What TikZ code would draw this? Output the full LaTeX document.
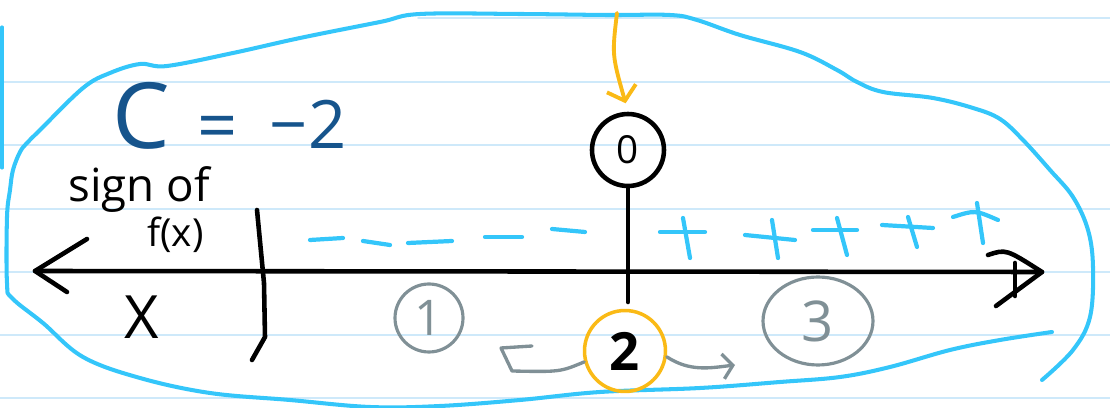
\documentclass[tikz,border=0pt]{standalone}
\usepackage{fontspec}
\setmainfont{Open Sans}
\usetikzlibrary{arrows.meta,shapes.geometric}
\definecolor{ruleblue}{RGB}{206,233,250}
\definecolor{blobblue}{RGB}{52,198,250}
\definecolor{inkblue}{RGB}{22,84,140}
\definecolor{pencilgray}{RGB}{128,144,150}
\definecolor{markerorange}{RGB}{250,186,22}

\begin{document}
\begin{tikzpicture}[x=0.02cm,y=-0.02cm,line cap=round,line join=round,
  rule/.style={ruleblue,line width=1.1pt},
  blob/.style={blobblue,line width=2.3pt},
  ink/.style={black,line width=2.6pt},
  signs/.style={blobblue,line width=2.4pt},
  pencil/.style={pencilgray,line width=1.9pt},
  marker/.style={markerorange,line width=2.2pt}]
\useasboundingbox (0,0) rectangle (1110,408);
\draw[rule] (418,18) -- (1110,18);
\draw[rule] (0,82) -- (1110,82);
\draw[rule] (0,145) -- (1110,145);
\draw[rule] (0,209) -- (1110,209);
\draw[rule] (0,272) -- (1110,272);
\draw[rule] (0,335) -- (1110,335);
\draw[rule] (0,398) -- (1110,398);
\draw[blobblue,line width=1.8pt] (2,27) -- (2,168);
\draw[blob] plot[smooth,tension=0.6] coordinates {(1052,332) (1000,340) (950,350) (890,367) (840,377) (780,382) (700,388) (600,392) (520,400) (440,406) (370,407) (290,400) (210,393) (140,378) (83,357) (43,323) (12,298) (7,283) (7,217) (10,190) (13,170) (20,152) (27,143) (40,130) (83,88) (110,73) (140,64) (167,66) (233,53) (300,38) (380,22) (420,14) (520,14) (607,15) (670,15) (697,20) (740,35) (800,52) (837,70) (857,82) (883,92) (933,98) (973,108) (1000,119) (1023,140) (1050,170) (1073,197) (1088,230) (1093,267) (1090,317) (1073,350) (1042,380)};
\node[inkblue,font=\fontsize{52}{52}\selectfont] (cname) at (141,116) {C};
\node[inkblue,font=\fontsize{40}{40}\selectfont] (ceq) at (218,133) {=};
\node[inkblue,font=\fontsize{38}{38}\selectfont] (cval) at (308,124) {−2};
\node[anchor=base west,inner sep=0pt,font=\fontsize{26}{26}\selectfont] (signof) at (68,202) {sign of};
\node[anchor=base west,inner sep=0pt,font=\fontsize{22}{22}\selectfont] (fx) at (147,247) {f(x)};
\node[font=\fontsize{34}{34}\selectfont] (xlab) at (142,317) {X};
\coordinate (lend) at (35,271);
\coordinate (rend) at (1042,272);
\draw[ink] (lend) -- (rend);
\draw[ink] (87,239) -- (lend) -- (67,292);
\draw[ink] (988,255) .. controls (1006,249) .. (rend) -- (996,306);
\draw[ink] (1015,263) -- (1015,296);
\draw[ink] (257,210) -- (264,283) -- (265,337) -- (252,360);
\node[draw,circle,line width=2.6pt,minimum size=1.44cm,font=\fontsize{22}{22}\selectfont] (zero) at (628,150) {0};
\coordinate (zstem) at (628,302);
\draw[ink] (zero.south) -- (zstem);
\coordinate (otop) at (617,13);
\draw[marker,-{Straight Barb[length=2.6mm,width=6mm]},shorten >=5pt] (otop) .. controls (612,55) .. (zero.north);
\draw[signs] (310,240) -- (343,238);
\draw[signs] (363,241) -- (390,245);
\draw[signs] (408,243) -- (452,241);
\draw[signs] (485,237) -- (522,237);
\draw[signs] (552,229) -- (585,232);
\draw[signs] (660,232) -- (705,232);
\draw[signs] (683,218) -- (690,258);
\draw[signs] (745,235) -- (795,240);
\draw[signs] (772,220) -- (778,258);
\draw[signs] (813,230) -- (857,230);
\draw[signs] (837,218) -- (847,255);
\draw[signs] (882,225) -- (933,228);
\draw[signs] (908,217) -- (917,247);
\draw[signs] (953,217) .. controls (975,210) .. (998,220);
\draw[signs] (977,203) -- (983,243);
\node[draw=pencilgray,line width=1.8pt,circle,minimum size=1.36cm,text=pencilgray,font=\fontsize{28}{28}\selectfont] (one) at (429,318) {1};
\node[draw=markerorange,line width=2pt,circle,minimum size=1.62cm,font=\bfseries\fontsize{30}{30}\selectfont] (two) at (625,351) {2};
\node[draw=pencilgray,line width=1.8pt,ellipse,minimum width=2.2cm,minimum height=1.76cm,text=pencilgray,font=\fontsize{32}{32}\selectfont] (three) at (818,321) {3};
\coordinate (lhook) at (512,371);
\coordinate (rhook) at (735,365);
\draw[pencil] (two.195) .. controls (560,372) .. (lhook) -- (501,348) -- (532,346);
\draw[pencil,-{Straight Barb[length=2mm,width=5mm]}] (two.-8) .. controls (690,372) and (710,368) .. (rhook);
\end{tikzpicture}
\end{document}
